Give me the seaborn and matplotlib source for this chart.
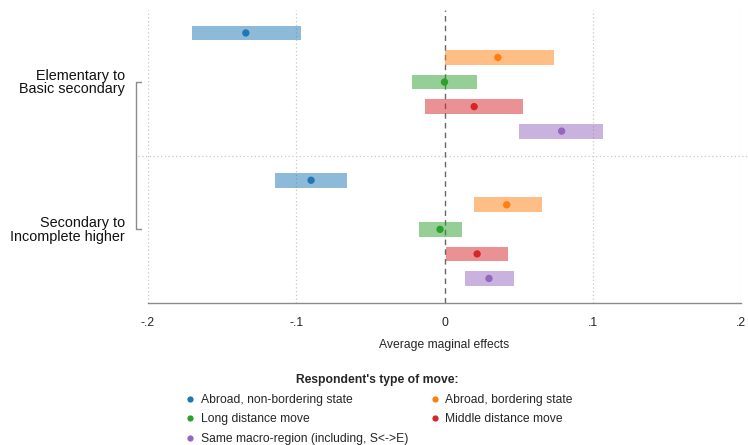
import numpy as np
import pandas as pd
import matplotlib
matplotlib.use("Agg")
import matplotlib.pyplot as plt
import matplotlib.transforms as mtransforms
from matplotlib.lines import Line2D
import seaborn as sns

# ---- data ----
groups = ["Elementary to\nBasic secondary", "Secondary to\nIncomplete higher"]
moves = ["Abroad, non-bordering state", "Abroad, bordering state",
         "Long distance move", "Middle distance move",
         "Same macro-region (including, S<->E)"]

est_g1 = [-0.134, 0.036, 0.000, 0.020, 0.079]
lo_g1 = [-0.170, 0.000, -0.022, -0.013, 0.050]
hi_g1 = [-0.097, 0.074, 0.022, 0.053, 0.107]

est_g2 = [-0.090, 0.042, -0.003, 0.022, 0.030]
lo_g2 = [-0.114, 0.020, -0.017, 0.001, 0.014]
hi_g2 = [-0.066, 0.066, 0.012, 0.043, 0.047]

xticks = [-0.2, -0.1, 0.0, 0.1, 0.2]
xticklabels = ["-.2", "-.1", "0", ".1", ".2"]

colors = sns.color_palette("tab10", 5)

rows = []
for g, (est, lo, hi) in enumerate([(est_g1, lo_g1, hi_g1), (est_g2, lo_g2, hi_g2)]):
    for i, m in enumerate(moves):
        rows.append({"group": groups[g], "move": m, "est": est[i], "lo": lo[i], "hi": hi[i],
                     "pos": 1 + i + 6 * g})
df = pd.DataFrame(rows)

sns.set_style("white")
plt.rcParams["font.family"] = ["Liberation Sans", "DejaVu Sans"]

fig = plt.figure(figsize=(7.48, 4.45), dpi=100)
ax = fig.add_axes([148 / 748, 1 - 303 / 445, 593 / 748, (303 - 8.4) / 445])

# confidence bars
for _, r in df.iterrows():
    c = colors[moves.index(r["move"])]
    ax.barh(r["pos"], r["hi"] - r["lo"], left=r["lo"], height=0.6,
            color=c, alpha=0.5, linewidth=0, zorder=2)

sns.scatterplot(data=df, x="est", y="pos", hue="move", hue_order=moves,
                palette=colors, s=28, linewidth=0, ax=ax, legend=False, zorder=3)

ax.set_xlim(-0.2, 0.2)
ax.set_ylim(12, 0)

# grid
for xv in [-0.2, -0.1, 0.1, 0.2]:
    ax.axvline(xv, ymin=0, ymax=0.995, color="#c8c8c8", linestyle=(0, (1, 2)), linewidth=0.9, zorder=1)
ax.axvline(0, ymin=0, ymax=0.995, color="#666666", linestyle=(0, (4, 3)), linewidth=1.0, zorder=1)

blend = mtransforms.blended_transform_factory(ax.transAxes, ax.transData)
ax.plot([-0.017, 1.012], [6, 6], transform=blend, color="#c8c8c8",
        linestyle=(0, (1, 2)), linewidth=0.9, clip_on=False, zorder=1)

# group bracket
bx0, bx1 = -0.0205, -0.012
ax.plot([bx1, bx0, bx0, bx1], [3, 3, 9, 9], transform=blend, color="#8a8a8a",
        linewidth=1.0, clip_on=False)
for g, yv in zip(groups, [3, 9]):
    ax.text(-0.039, yv + 0.02, g, transform=blend, ha="right", va="center",
            fontsize=10.4, linespacing=0.95, color="#111111")

# axes styling
for s in ["left", "right", "top"]:
    ax.spines[s].set_visible(False)
ax.spines["bottom"].set_color("#8a8a8a")
ax.spines["bottom"].set_linewidth(1.0)
ax.set_yticks([])
ax.set_xticks(xticks)
ax.set_xticklabels(xticklabels, fontsize=8.7)
ax.tick_params(axis="x", direction="out", length=5, width=1.0, color="#8a8a8a", pad=5)
ax.set_xlabel("Average maginal effects", fontsize=8.7, labelpad=7)
ax.set_ylabel("")

# legend (row-wise order in two columns)
handles = [Line2D([0], [0], marker="o", linestyle="", markersize=4.5,
                  markerfacecolor=colors[i], markeredgewidth=0) for i in range(5)]
order = [0, 2, 4, 1, 3]
leg = fig.legend([handles[i] for i in order], [moves[i] for i in order],
                 loc="upper center", bbox_to_anchor=(0.505, 1 - 366 / 445), ncol=2,
                 frameon=False, fontsize=8.7, title="Respondent's type of move:",
                 title_fontproperties={"weight": "bold", "size": 8.7},
                 handletextpad=0.3, columnspacing=1.6, labelspacing=0.62,
                 handlelength=1.2, borderpad=0.2)

fig.savefig("out.png", dpi=100)
